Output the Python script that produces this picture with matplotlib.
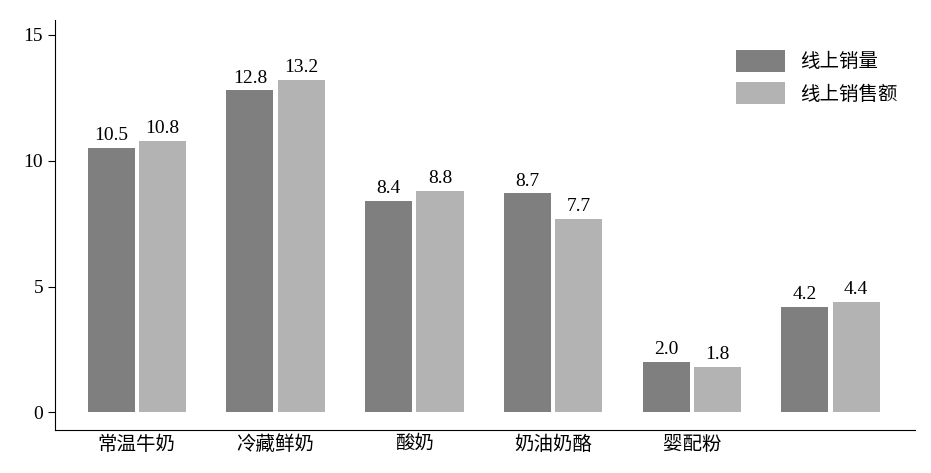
import matplotlib
matplotlib.use("Agg")
import matplotlib.pyplot as plt
import numpy as np

plt.rcParams['font.family'] = ['Liberation Serif', 'Noto Sans CJK SC', 'DejaVu Sans']

categories = ['常温牛奶', '冷藏鲜奶', '酸奶', '奶油奶酪', '婴配粉', '']
online_volume = [10.5, 12.8, 8.4, 8.7, 2.0, 4.2]
online_sales = [10.8, 13.2, 8.8, 7.7, 1.8, 4.4]
series_names = ['线上销量', '线上销售额']

fig = plt.figure(figsize=(9.31, 4.73), dpi=100)
ax = fig.add_axes([0.059, 0.091, 0.924, 0.867])
x = np.arange(len(categories))
w = 0.34
off = 0.185
b1 = ax.bar(x - off, online_volume, w, color='#7f7f7f', label=series_names[0])
b2 = ax.bar(x + off, online_sales, w, color='#b3b3b3', label=series_names[1])
for bars, vals in ((b1, online_volume), (b2, online_sales)):
    for r, v in zip(bars, vals):
        ax.text(r.get_x() + r.get_width() / 2, v + 0.15, f'{v:.1f}',
                ha='center', va='bottom', fontsize=14)

ax.set_xlim(-0.59, 5.61)
ax.set_ylim(-0.7, 15.6)
ax.set_yticks([0, 5, 10, 15])
ax.tick_params(axis='y', labelsize=14, direction='out', length=5)
ax.set_xticks(x)
ax.set_xticklabels(categories, fontsize=14)
ax.tick_params(axis='x', length=0, pad=4)
for s in ('top', 'right'):
    ax.spines[s].set_visible(False)
ax.legend(loc='upper right', fontsize=14, frameon=False, handlelength=2.5,
          handleheight=1.4, bbox_to_anchor=(1.0, 0.97))
fig.savefig('out.png', dpi=100)
